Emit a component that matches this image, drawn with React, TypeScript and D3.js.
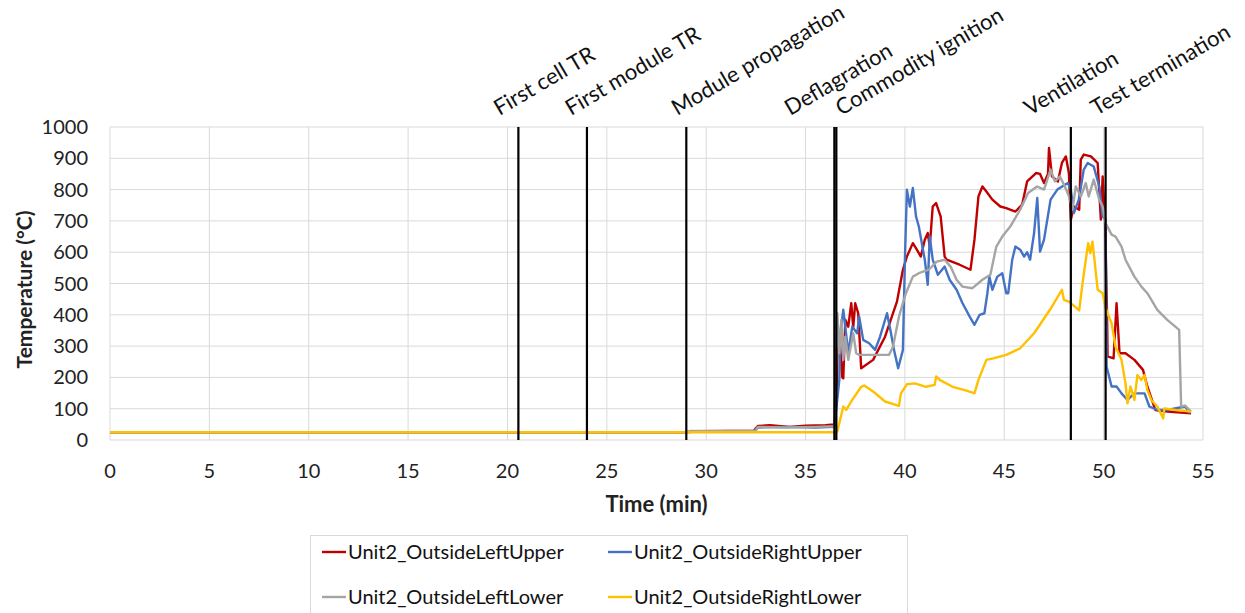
import * as d3 from 'd3';
import { useEffect, useRef } from 'react';

type Pt = [number, number];

// time (min), temperature (°C)
const leftUpper: Pt[] = [
  [0, 25], [29, 25], [29.8, 28], [32.4, 30], [32.6, 45], [33.2, 47], [34.2, 42], [35, 46], [36, 47], [36.45, 50],
  [36.55, 120], [36.6, 277], [36.7, 340], [36.85, 200], [36.9, 197], [37.0, 384], [37.15, 362], [37.3, 437], [37.4, 360],
  [37.5, 437], [37.65, 405], [37.8, 229], [38.4, 256], [39.0, 330], [39.6, 442], [39.9, 544], [40.1, 586], [40.4, 629],
  [40.6, 608], [40.8, 586], [41.0, 640], [41.15, 661], [41.25, 618], [41.4, 746], [41.57, 757], [41.8, 714], [42.0, 586],
  [42.1, 576], [42.75, 560], [43.3, 544], [43.5, 640], [43.7, 778], [43.9, 810], [44.1, 794], [44.4, 768], [44.8, 746],
  [45.1, 741], [45.56, 730], [45.9, 752], [46.15, 826], [46.6, 853], [46.8, 850], [47.0, 821], [47.2, 850], [47.25, 933],
  [47.4, 842], [47.7, 826], [47.9, 885], [48.1, 906], [48.25, 853], [48.35, 704], [48.5, 746], [48.77, 736], [48.85, 896],
  [49.0, 912], [49.36, 906], [49.7, 885], [49.86, 704], [49.95, 842], [50.07, 704], [50.17, 405], [50.2, 267], [50.5, 261],
  [50.65, 437], [50.8, 277], [51.1, 277], [51.55, 256], [51.98, 224], [52.2, 171], [52.6, 96], [53.2, 91], [54.4, 85],
];

const rightUpper: Pt[] = [
  [0, 25], [29, 25], [29.8, 27], [32.4, 29], [32.6, 40], [34, 42], [35.5, 40], [36.45, 42], [36.7, 192], [36.75, 341],
  [36.9, 416], [37.0, 362], [37.15, 277], [37.35, 362], [37.6, 341], [37.7, 394], [37.9, 320], [38.2, 309], [38.5, 288],
  [38.75, 330], [39.1, 405], [39.3, 341], [39.45, 288], [39.66, 229], [39.9, 288], [40.0, 576], [40.1, 800], [40.25, 746],
  [40.4, 805], [40.56, 714], [40.7, 682], [41.0, 576], [41.15, 496], [41.25, 650], [41.4, 576], [41.66, 528], [42.0, 554],
  [42.25, 512], [42.6, 480], [42.9, 437], [43.26, 394], [43.5, 368], [43.76, 400], [44.0, 405], [44.15, 469], [44.25, 522],
  [44.4, 480], [44.65, 522], [44.9, 533], [45.1, 469], [45.2, 469], [45.4, 576], [45.56, 618], [45.8, 608], [46.0, 586],
  [46.15, 600], [46.3, 576], [46.5, 661], [46.66, 773], [46.8, 602], [47.0, 640], [47.33, 768], [47.67, 800], [48.2, 821],
  [48.35, 800], [48.5, 725], [48.75, 768], [49.0, 864], [49.2, 885], [49.5, 874], [49.78, 810], [49.95, 714], [50.1, 704],
  [50.15, 234], [50.4, 171], [50.65, 171], [50.9, 149], [51.2, 128], [51.55, 149], [52.06, 149], [52.3, 107], [52.7, 96],
  [53.2, 96], [54.1, 107], [54.35, 85],
];

const leftLower: Pt[] = [
  [0, 25], [29, 25], [29.2, 29], [32.5, 29], [32.6, 42], [34, 40], [35.5, 42], [36.45, 44], [36.6, 405], [36.7, 277],
  [36.8, 384], [36.9, 256], [37.0, 330], [37.15, 256], [37.4, 341], [37.55, 277], [37.7, 272], [38.2, 272], [39.2, 272],
  [39.4, 298], [39.7, 394], [40.05, 469], [40.4, 522], [40.7, 533], [41.2, 544], [41.6, 570], [42.0, 576], [42.3, 554],
  [42.6, 512], [42.9, 490], [43.4, 485], [43.9, 512], [44.3, 528], [44.6, 618], [44.9, 650], [45.3, 682], [45.8, 736],
  [46.2, 789], [46.65, 810], [47.0, 800], [47.33, 864], [47.55, 826], [47.8, 842], [48.05, 810], [48.26, 778], [48.43, 736],
  [48.6, 810], [48.85, 778], [49.1, 821], [49.25, 778], [49.5, 832], [49.78, 768], [49.95, 746], [50.1, 693], [50.4, 656],
  [50.6, 650], [50.9, 618], [51.1, 576], [51.55, 522], [51.9, 490], [52.2, 469], [52.7, 416], [53.2, 384], [53.8, 352],
  [53.9, 107], [54.1, 110], [54.4, 91],
];

const rightLower: Pt[] = [
  [0, 25], [36.5, 25], [36.6, 27], [36.9, 107], [37.05, 96], [37.35, 128], [37.8, 170], [37.95, 174], [38.4, 155],
  [39.0, 123], [39.7, 109], [39.8, 149], [40.1, 178], [40.5, 181], [41.06, 170], [41.5, 176], [41.57, 203], [41.75, 192],
  [42.4, 170], [43.1, 158], [43.5, 149], [43.7, 192], [44.1, 256], [44.45, 261], [45.1, 272], [45.8, 293], [46.5, 341],
  [47.3, 416], [47.9, 480], [48.0, 448], [48.26, 442], [48.77, 414], [48.94, 501], [49.22, 629], [49.33, 597], [49.44, 634],
  [49.7, 480], [49.95, 469], [50.1, 421], [50.4, 373], [50.6, 298], [50.9, 256], [51.1, 181], [51.2, 117], [51.35, 171],
  [51.55, 128], [51.7, 208], [51.9, 192], [52.06, 208], [52.2, 160], [52.4, 128], [52.7, 107], [53.0, 69], [53.05, 101],
  [53.6, 96], [54.4, 91],
];

const seriesNames = ['Unit2_OutsideLeftUpper', 'Unit2_OutsideRightUpper', 'Unit2_OutsideLeftLower', 'Unit2_OutsideRightLower'];
const seriesColors = ['#C00000', '#4472C4', '#A5A5A5', '#FFC000'];
const seriesData = [leftUpper, rightUpper, leftLower, rightLower];

const eventTimes = [20.55, 24.0, 29.0, 36.45, 36.55, 48.35, 50.1];
const eventLabels = ['First cell TR', 'First module TR', 'Module propagation', 'Deflagration', 'Commodity ignition', 'Ventilation', 'Test termination'];
// horizontal shift of each label from its line (px)
const labelShift = [-19, -16, -9, -44, 5, -41, -9];

const xTicks = d3.range(0, 56, 5);
const yTicks = d3.range(0, 1001, 100);

const FONT = 'Lato, "Open Sans", sans-serif';

const App = () => {
  const svgRef = useRef<SVGSVGElement | null>(null);

  useEffect(() => {
    const width = 1245;
    const height = 613;
    const margin = { top: 127, right: 42, bottom: 173, left: 110 };

    const x = d3.scaleLinear().domain([0, 55]).range([margin.left, width - margin.right]);
    const y = d3.scaleLinear().domain([0, 1000]).range([height - margin.bottom, margin.top]);

    const svg = d3.select(svgRef.current);
    svg.selectAll('*').remove();

    // grid
    svg.append('g')
      .selectAll('line')
      .data(yTicks)
      .join('line')
      .attr('x1', x(0)).attr('x2', x(55))
      .attr('y1', (d) => y(d)).attr('y2', (d) => y(d))
      .attr('stroke', '#d9d9d9').attr('stroke-width', 1);

    svg.append('g')
      .selectAll('line')
      .data(xTicks)
      .join('line')
      .attr('x1', (d) => x(d)).attr('x2', (d) => x(d))
      .attr('y1', y(0)).attr('y2', y(1000))
      .attr('stroke', '#d9d9d9').attr('stroke-width', 1);

    // tick labels
    svg.append('g')
      .selectAll('text')
      .data(yTicks)
      .join('text')
      .attr('x', margin.left - 22)
      .attr('y', (d) => y(d) + 7)
      .attr('text-anchor', 'end')
      .attr('font-family', FONT).attr('font-size', 20).attr('fill', '#222')
      .text((d) => d);

    svg.append('g')
      .selectAll('text')
      .data(xTicks)
      .join('text')
      .attr('x', (d) => x(d))
      .attr('y', y(0) + 38)
      .attr('text-anchor', 'middle')
      .attr('font-family', FONT).attr('font-size', 20).attr('fill', '#222')
      .text((d) => d);

    // axis titles
    svg.append('text')
      .attr('x', (x(0) + x(55)) / 2)
      .attr('y', y(0) + 72)
      .attr('text-anchor', 'middle')
      .attr('font-family', FONT).attr('font-size', 22).attr('font-weight', 'bold').attr('fill', '#222')
      .text('Time (min)');

    svg.append('text')
      .attr('transform', `translate(32,${(y(0) + y(1000)) / 2 + 6}) rotate(-90)`)
      .attr('text-anchor', 'middle')
      .attr('font-family', FONT).attr('font-size', 21).attr('font-weight', 'bold').attr('fill', '#222')
      .text('Temperature (°C)');

    // data lines
    const line = d3.line<Pt>().x((d) => x(d[0])).y((d) => y(d[1]));
    svg.append('g')
      .selectAll('path')
      .data(seriesData)
      .join('path')
      .attr('fill', 'none')
      .attr('stroke', (_, i) => seriesColors[i])
      .attr('stroke-width', 2.4)
      .attr('stroke-linejoin', 'round')
      .attr('d', (d) => line(d));

    // event markers
    svg.append('g')
      .selectAll('line')
      .data(eventTimes)
      .join('line')
      .attr('x1', (d) => x(d)).attr('x2', (d) => x(d))
      .attr('y1', y(0)).attr('y2', y(1000))
      .attr('stroke', '#000').attr('stroke-width', 2.2);

    svg.append('g')
      .selectAll('text')
      .data(eventLabels)
      .join('text')
      .attr('transform', (_, i) => `translate(${x(eventTimes[i]) + labelShift[i]},${y(1000) - 11}) rotate(-30.5)`)
      .attr('font-family', FONT).attr('font-size', 22).attr('fill', '#111')
      .text((d) => d);

    // legend
    const lg = svg.append('g');
    lg.append('rect')
      .attr('x', 310.5).attr('y', 535.5).attr('width', 597).attr('height', 90)
      .attr('fill', '#fff').attr('stroke', '#d9d9d9');
    const cols = [322, 608];
    const rows = [552, 597];
    seriesNames.forEach((name, i) => {
      const cx = cols[i % 2];
      const cy = rows[Math.floor(i / 2)];
      lg.append('line')
        .attr('x1', cx).attr('x2', cx + 24)
        .attr('y1', cy).attr('y2', cy)
        .attr('stroke', seriesColors[i]).attr('stroke-width', 2.4);
      lg.append('text')
        .attr('x', cx + 26).attr('y', cy + 7)
        .attr('font-family', FONT).attr('font-size', 20).attr('fill', '#111')
        .text(name);
    });
  }, []);

  return (
    <svg
      ref={svgRef}
      width={1245}
      height={613}
      style={{ position: 'absolute', left: 0, top: 0, background: '#fff' }}
    ></svg>
  );
};

export default App;
